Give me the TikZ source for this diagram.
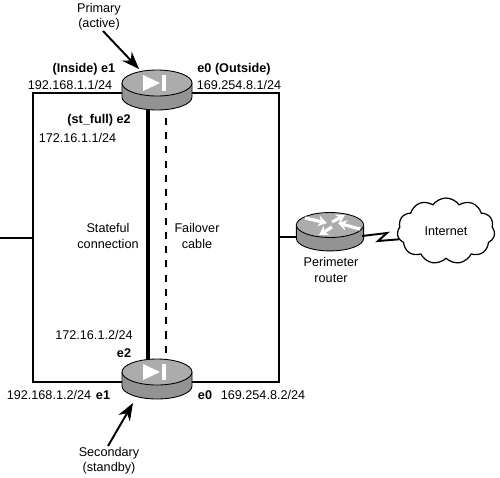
\documentclass[tikz,border=0pt]{standalone}
\usepackage{fontspec}
\setmainfont{Liberation Sans}
\usetikzlibrary{arrows.meta,positioning,shapes.symbols,calc}
\tikzset{
  lbl/.style={font=\fontsize{7.2}{8.6}\selectfont,align=center,inner sep=0pt},
  bfl/.style={lbl,font=\fontsize{7.2}{8.6}\selectfont\bfseries},
  link/.style={line width=1.1pt},
  callout/.style={line width=1.1pt,-{Stealth[length=10pt,width=7.5pt]}},
  pics/routerbody/.style={code={
    \fill[gray!85!white] (-35,0) -- (-35,14) arc[start angle=180,end angle=0,x radius=35,y radius=13] -- (35,0) -- cycle;
    \draw[line width=0.5pt] (-35,0) -- (-35,14) arc[start angle=180,end angle=0,x radius=35,y radius=13] -- (35,0);
    \draw[line width=0.5pt,fill=gray!65] (0,0) ellipse[x radius=35,y radius=13];
  }},
  pics/failover/.style={code={
    \fill[white] (-14,-8) -- (-14,8) -- (3,0) -- cycle;
    \fill[white] (5,-8) rectangle (9,8);
  }},
  flow/.style={white,line width=1.8pt,-{Stealth[length=5pt,width=6pt]}}
}
\begin{document}
\begin{tikzpicture}[x=0.02cm,y=-0.02cm]
\useasboundingbox (0,0) rectangle (500,477);
\coordinate (P) at (157,83); \coordinate (S) at (157,372); \coordinate (R) at (330,225);
\coordinate (stub) at (0,238); \coordinate (tl) at (33,93); \coordinate (tr) at (279,93);
\coordinate (bl) at (33,382); \coordinate (br) at (279,382);
\coordinate (lm) at (33,238); \coordinate (rm) at (279,237); \coordinate (rin) at (300,237);
\coordinate (rout) at (362,236);
% box and cables
\draw[link] (tl) -- (tr) -- (br) -- (bl) -- cycle;
\draw[link] (stub) -- (lm);
\draw[link] (rm) -- (rin);
\draw[line width=2.4pt] (148,100) -- (148,365);
\draw[line width=1.4pt,dash pattern=on 4pt off 4.1pt] (166,118) -- (166,365);
% firewalls
\pic at (P) {routerbody}; \pic at (P) {failover};
\pic at (S) {routerbody}; \pic at (S) {failover};
% perimeter router
\pic[scale=0.96] at (R) {routerbody};
\draw[flow] ($(R)+(-25,-7)$) -- ($(R)+(-3,-2)$);
\draw[flow] ($(R)+(2,-3)$) -- ($(R)+(15,-10)$);
\draw[flow] ($(R)+(2,2)$) -- ($(R)+(-11,10)$);
\draw[flow] ($(R)+(30,4)$) -- ($(R)+(8,-2)$);
\node[cloud,draw,line width=0.7pt,cloud puffs=11,cloud puff arc=110,aspect=1.7,minimum width=1.95cm,minimum height=1.32cm,inner sep=0pt,lbl] (internet) at (446,231) {Internet};
\draw[line width=1.1pt] (rout) -- (387,233) -- (378,241) -- (internet.190);
% labels
\node[lbl] (primary) at (99,17) {Primary\\(active)};
\node[lbl] (secondary) at (109,461) {Secondary\\(standby)};
\draw[callout] (103,31) -- (139,69);
\draw[callout] (108,446) -- (133,403);
\node[bfl] (pe1) at (84,69) {(Inside) e1};
\node[lbl] (pip1) at (70,85) {192.168.1.1/24};
\node[bfl] (pe0) at (234,69) {e0 (Outside)};
\node[lbl] (pip0) at (239,85) {169.254.8.1/24};
\node[bfl] (pe2) at (99,120) {(st\_full) e2};
\node[lbl] (pip2) at (77.5,138) {172.16.1.1/24};
\node[lbl] (stateful) at (108,236) {Stateful\\connection};
\node[lbl] (failover) at (197,236) {Failover\\cable};
\node[lbl] (sip2) at (94,335) {172.16.1.2/24};
\node[bfl] (se2) at (124,353) {e2};
\node[lbl] (sip1) at (49,395) {192.168.1.2/24};
\node[bfl] (se1) at (103,395) {e1};
\node[bfl] (se0) at (205,395) {e0};
\node[lbl] (sip0) at (263,395) {169.254.8.2/24};
\node[lbl] (perimeter) at (331,270) {Perimeter\\router};
\end{tikzpicture}
\end{document}
